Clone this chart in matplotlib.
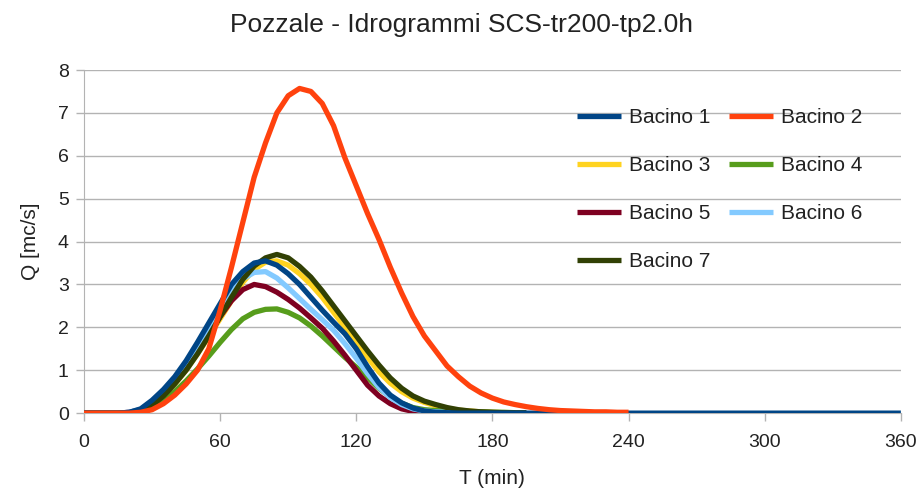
import matplotlib
matplotlib.use("Agg")
import matplotlib.pyplot as plt
import numpy as np

plt.rcParams["font.family"] = ["Liberation Sans", "DejaVu Sans"]

TITLE = "Pozzale - Idrogrammi SCS-tr200-tp2.0h"
NAMES = ["Bacino 1", "Bacino 2", "Bacino 3", "Bacino 4",
         "Bacino 5", "Bacino 6", "Bacino 7"]
COLORS = ["#004586", "#ff420e", "#ffd320", "#579d1c",
          "#7e0021", "#83caff", "#314004"]

STEP = 5  # minutes between readings

# discharge readings (mc/s) every 5 minutes, starting at t = 0
q1 = [0, 0, 0, 0, 0.02, 0.1, 0.3, 0.55, 0.85, 1.22, 1.65, 2.1, 2.55, 3.0,
      3.3, 3.5, 3.55, 3.45, 3.25, 3.0, 2.7, 2.4, 2.12, 1.85, 1.5, 1.08, 0.7,
      0.42, 0.24, 0.12, 0.05, 0.02, 0.01] + [0] * 40
q2 = [0, 0, 0, 0, 0, 0.02, 0.08, 0.22, 0.42, 0.68, 1.0, 1.5, 2.4, 3.4, 4.45,
      5.5, 6.3, 7.0, 7.4, 7.57, 7.5, 7.22, 6.7, 5.95, 5.3, 4.65, 4.05, 3.4,
      2.8, 2.25, 1.8, 1.45, 1.1, 0.85, 0.63, 0.47, 0.35, 0.26, 0.2, 0.15,
      0.11, 0.08, 0.06, 0.05, 0.04, 0.03, 0.03, 0.02, 0.02]
q3 = [0, 0, 0, 0, 0.01, 0.06, 0.18, 0.4, 0.68, 1.0, 1.38, 1.78, 2.2, 2.62,
      3.05, 3.35, 3.52, 3.55, 3.45, 3.25, 3.0, 2.7, 2.35, 2.0, 1.65, 1.3,
      0.96, 0.7, 0.5, 0.35, 0.25, 0.17, 0.11, 0.07, 0.05, 0.03, 0.02, 0.01,
      0.01]
q4 = [0, 0, 0, 0, 0.01, 0.05, 0.15, 0.3, 0.5, 0.75, 1.03, 1.33, 1.65, 1.95,
      2.2, 2.35, 2.42, 2.43, 2.35, 2.22, 2.03, 1.8, 1.55, 1.3, 1.07, 0.83,
      0.58, 0.38, 0.23, 0.13, 0.08, 0.06, 0.05, 0.04, 0.03, 0.03, 0.02,
      0.02, 0.01]
q5 = [0, 0, 0, 0, 0.02, 0.08, 0.22, 0.45, 0.75, 1.08, 1.45, 1.82, 2.25, 2.62,
      2.88, 3.0, 2.95, 2.82, 2.65, 2.45, 2.22, 1.98, 1.68, 1.35, 1.0, 0.65,
      0.4, 0.22, 0.1, 0.04, 0.02, 0.01, 0, 0, 0]
q6 = [0, 0, 0, 0, 0.02, 0.09, 0.27, 0.5, 0.8, 1.13, 1.53, 1.95, 2.4, 2.83,
      3.13, 3.28, 3.3, 3.15, 2.92, 2.67, 2.42, 2.18, 1.93, 1.62, 1.28, 0.92,
      0.6, 0.36, 0.2, 0.1, 0.05, 0.03, 0.02, 0.01, 0.01, 0, 0, 0, 0]
q7 = [0, 0, 0, 0, 0.01, 0.06, 0.18, 0.4, 0.68, 1.0, 1.38, 1.8, 2.25, 2.7,
      3.12, 3.43, 3.62, 3.7, 3.62, 3.42, 3.17, 2.85, 2.5, 2.15, 1.8, 1.45,
      1.12, 0.82, 0.58, 0.4, 0.28, 0.2, 0.13, 0.08, 0.05, 0.03, 0.02, 0.01,
      0.01, 0.01]

SERIES = [q1, q2, q3, q4, q5, q6, q7]
# draw order: others first, then Bacino 1, then Bacino 2 on top
ZORDER = [8, 9, 3, 4, 5, 6, 7]

fig = plt.figure(figsize=(9.23, 4.93), dpi=100)
ax = fig.add_axes([0.091, 0.162, 0.885, 0.696])

handles = []
for q, name, col, z in zip(SERIES, NAMES, COLORS, ZORDER):
    t = np.arange(len(q)) * STEP
    (h,) = ax.plot(t, q, color=col, lw=3.8, label=name, zorder=z,
                   solid_capstyle="butt", solid_joinstyle="round")
    handles.append(h)

ax.set_xlim(0, 360)
ax.set_ylim(0, 8)
ax.set_xticks(np.arange(0, 361, 60))
ax.set_yticks(np.arange(0, 9, 1))
ax.yaxis.grid(True, color="#b3b3b3", lw=1.0)
ax.set_axisbelow(True)
for s in ["top", "right"]:
    ax.spines[s].set_visible(False)
for s in ["left", "bottom"]:
    ax.spines[s].set_color("#b3b3b3")
ax.tick_params(colors="#b3b3b3", labelcolor="#222222", labelsize=14,
               length=6, width=1)
ax.tick_params(axis="x", pad=9)
ax.tick_params(axis="y", pad=5)

fig.suptitle(TITLE, fontsize=19, color="#222222", x=0.5, y=0.95, va="center")
ax.set_xlabel("T (min)", fontsize=15, color="#222222", labelpad=13)
ax.set_ylabel("Q [mc/s]", fontsize=15, color="#222222", labelpad=13)

order = [0, 2, 4, 6, 1, 3, 5]
ax.legend([handles[i] for i in order], [NAMES[i] for i in order],
          ncol=2, frameon=False, loc="upper left",
          bbox_to_anchor=(0.591, 0.92), borderpad=0, fontsize=15,
          handlelength=2.1, handletextpad=0.4, columnspacing=0.9,
          labelspacing=1.4, labelcolor="#222222")

fig.savefig("out.png", dpi=100, facecolor="white")
